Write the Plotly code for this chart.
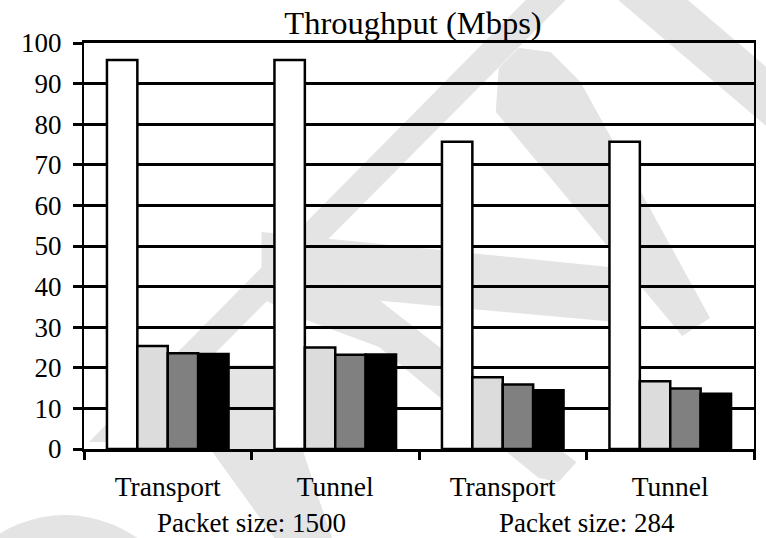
import plotly.graph_objects as go

# Throughput per IPsec mode, two packet sizes, four configurations each
cases = ["Transport 1500", "Tunnel 1500", "Transport 284", "Tunnel 284"]
mode_labels = ["Transport", "Tunnel", "Transport", "Tunnel"]
packet_labels = ["Packet size: 1500", "Packet size: 284"]
config_a = [95.8, 95.8, 75.7, 75.7]
config_b = [25.4, 25.0, 17.7, 16.7]
config_c = [23.6, 23.2, 15.9, 14.9]
config_d = [23.4, 23.3, 14.5, 13.6]
y_ticks = list(range(0, 101, 10))

series = [config_a, config_b, config_c, config_d]
fills = ["#ffffff", "#dcdcdc", "#808080", "#000000"]

W, H = 766, 538
L, R, T, B = 84, 10, 43, 89
FONT = "'Liberation Serif', 'Times New Roman', Times, serif"


def to_paper(px, py):
    """Canvas pixel position -> paper fraction of the plot area."""
    return (px - L) / (W - L - R), (H - B - py) / (H - T - B)


def poly_path(points):
    pts = [to_paper(x, y) for x, y in points]
    return "M " + " L ".join(f"{x:.4f},{y:.4f}" for x, y in pts) + " Z"


# faint background logo strokes (canvas pixel outlines)
logo_strokes = [
    [(608, -10), (678, -10), (800, 94), (800, 153)],
    [(537, -10), (577, -10), (127, 442), (89, 442)],
    [(497, 112), (500, 68), (520, 48), (552, 52), (582, 82), (712, 318), (684, 336)],
    [(262, 232), (640, 270), (640, 324), (262, 290)],
    [(265, 245), (307, 272), (380, 300), (470, 370), (555, 445), (578, 462),
     (560, 482), (540, 478), (450, 405), (380, 347), (307, 320), (265, 300)],
    [(150, 365), (275, 365), (335, 545), (280, 545)],
]

fig = go.Figure()
for vals, col in zip(series, fills):
    fig.add_trace(go.Bar(
        x=cases, y=vals,
        marker=dict(color=col, line=dict(color="black", width=2.5)),
        showlegend=False, hoverinfo="skip",
    ))

shapes = []
for pts in logo_strokes:
    shapes.append(dict(type="path", path=poly_path(pts), xref="paper", yref="paper",
                       fillcolor="#e4e4e4", line=dict(width=0), layer="below"))
cx0, cy0 = to_paper(-60, 515)
cx1, cy1 = to_paper(190, 765)
shapes.append(dict(type="circle", x0=cx0, x1=cx1, y0=cy0, y1=cy1, xref="paper", yref="paper",
                   fillcolor="#e4e4e4", line=dict(width=0), layer="below"))

annotations = []
for i, lab in enumerate(packet_labels):
    annotations.append(dict(
        x=2 * i + 0.5, xref="x", y=to_paper(0, 523)[1], yref="paper",
        text=lab, showarrow=False, xanchor="center", yanchor="middle",
        font=dict(family=FONT, size=27, color="black"),
    ))

fig.update_layout(
    width=W, height=H,
    margin=dict(l=L, r=R, t=T, b=B, pad=0),
    paper_bgcolor="white", plot_bgcolor="rgba(0,0,0,0)",
    barmode="group", bargap=0.274, bargroupgap=0,
    font=dict(family=FONT, size=27, color="black"),
    title=dict(text="Throughput (Mbps)", x=413 / W, xref="container", xanchor="center",
               y=1 - 23 / H, yref="container", yanchor="middle",
               font=dict(family=FONT, size=32.5, color="black")),
    shapes=shapes, annotations=annotations,
    xaxis=dict(type="category", categoryorder="array", categoryarray=cases,
               tickmode="array", tickvals=cases, ticktext=mode_labels,
               tickson="boundaries", ticks="outside", ticklen=8, tickwidth=2.5, tickcolor="black",
               showline=True, linewidth=3, linecolor="black", mirror=True,
               showgrid=False, zeroline=False, ticklabelstandoff=11,
               tickfont=dict(family=FONT, size=27.5, color="black")),
    yaxis=dict(range=[0, 100], tickmode="array", tickvals=y_ticks,
               ticks="outside", ticklen=9, tickwidth=2.5, tickcolor="black",
               showline=True, linewidth=2, linecolor="black", mirror=True,
               showgrid=True, gridcolor="black", gridwidth=2.5, zeroline=False,
               ticklabelstandoff=6,
               tickfont=dict(family=FONT, size=27, color="black")),
)

fig.write_html("out.html")
